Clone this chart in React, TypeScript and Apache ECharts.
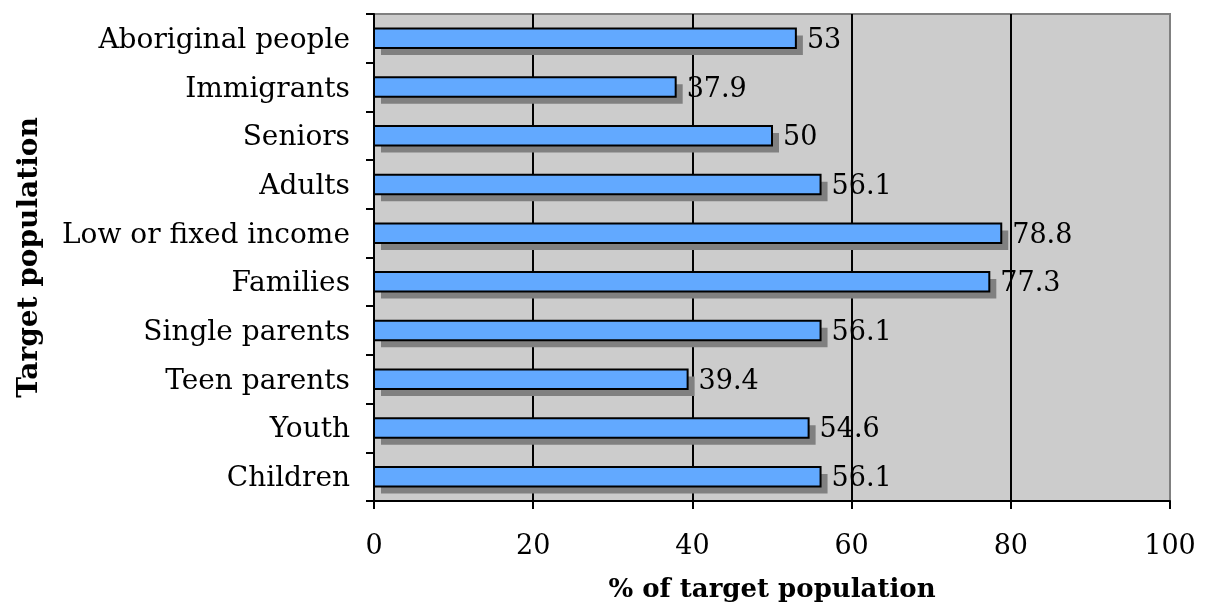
import React, { useEffect, useRef } from "react";
import * as echarts from "echarts";

const categories = [
  "Children",
  "Youth",
  "Teen parents",
  "Single parents",
  "Families",
  "Low or fixed income",
  "Adults",
  "Seniors",
  "Immigrants",
  "Aboriginal people",
];
const values = [56.1, 54.6, 39.4, 56.1, 77.3, 78.8, 56.1, 50, 37.9, 53];
const xTicks = [0, 20, 40, 60, 80, 100];

const FONT = "DejaVu Serif";

export default function App() {
  const ref = useRef<HTMLDivElement>(null);
  useEffect(() => {
    if (!ref.current) return;
    const chart = echarts.init(ref.current, undefined, { renderer: "svg" });
    const data = values.map((v, i) => [v, i]);
    chart.setOption({
      animation: false,
      grid: {
        left: 374,
        right: 38,
        top: 14,
        bottom: 105,
        show: true,
        backgroundColor: "#cccccc",
        borderColor: "#808080",
        borderWidth: 2,
      },
      xAxis: {
        type: "value",
        min: xTicks[0],
        max: xTicks[xTicks.length - 1],
        interval: 20,
        name: "% of target population",
        nameLocation: "middle",
        nameGap: 74,
        nameTextStyle: { fontFamily: FONT, fontSize: 26, fontWeight: "bold", color: "#000" },
        axisLine: { show: true, lineStyle: { color: "#000", width: 2 } },
        axisTick: { show: true, length: 8, lineStyle: { color: "#000", width: 2 } },
        axisLabel: { fontFamily: FONT, fontSize: 27, color: "#000", margin: 30 },
        splitLine: {
          show: true,
          lineStyle: { color: ["#000", "#000", "#000", "#000", "#000", "#808080"], width: 2 },
        },
      },
      yAxis: {
        type: "category",
        data: categories,
        name: "Target population",
        nameLocation: "middle",
        nameGap: 333,
        nameRotate: 90,
        nameTextStyle: { fontFamily: FONT, fontSize: 28, fontWeight: "bold", color: "#000" },
        axisLine: { show: true, lineStyle: { color: "#000", width: 2 } },
        axisTick: { show: true, length: 8, lineStyle: { color: "#000", width: 2 } },
        axisLabel: { fontFamily: FONT, fontSize: 28, color: "#000", margin: 24 },
        splitLine: { show: false },
      },
      series: [
        {
          type: "custom",
          encode: { x: 0, y: 1 },
          data,
          renderItem: (params: any, api: any) => {
            const v = api.value(0);
            const idx = api.value(1);
            const start = api.coord([0, idx]);
            const end = api.coord([v, idx]);
            const band = api.size([0, 1])[1];
            const h = band * 0.4;
            const y0 = start[1] - h / 2;
            const w = end[0] - start[0];
            return {
              type: "group",
              children: [
                {
                  type: "rect",
                  shape: { x: start[0] + 7, y: y0 + 7, width: w, height: h },
                  style: { fill: "#808080" },
                },
                {
                  type: "rect",
                  shape: { x: start[0], y: y0, width: w, height: h },
                  style: { fill: "#62a9ff", stroke: "#000", lineWidth: 2 },
                },
                {
                  type: "text",
                  x: end[0] + 11,
                  y: start[1],
                  style: {
                    text: String(v),
                    fontFamily: FONT,
                    fontSize: 27,
                    fill: "#000",
                    verticalAlign: "middle",
                    align: "left",
                  },
                },
              ],
            };
          },
        },
      ],
    });
    return () => chart.dispose();
  }, []);
  return (
    <div
      ref={ref}
      style={{ position: "fixed", left: 0, top: 0, width: 1208, height: 606 }}
    />
  );
}
